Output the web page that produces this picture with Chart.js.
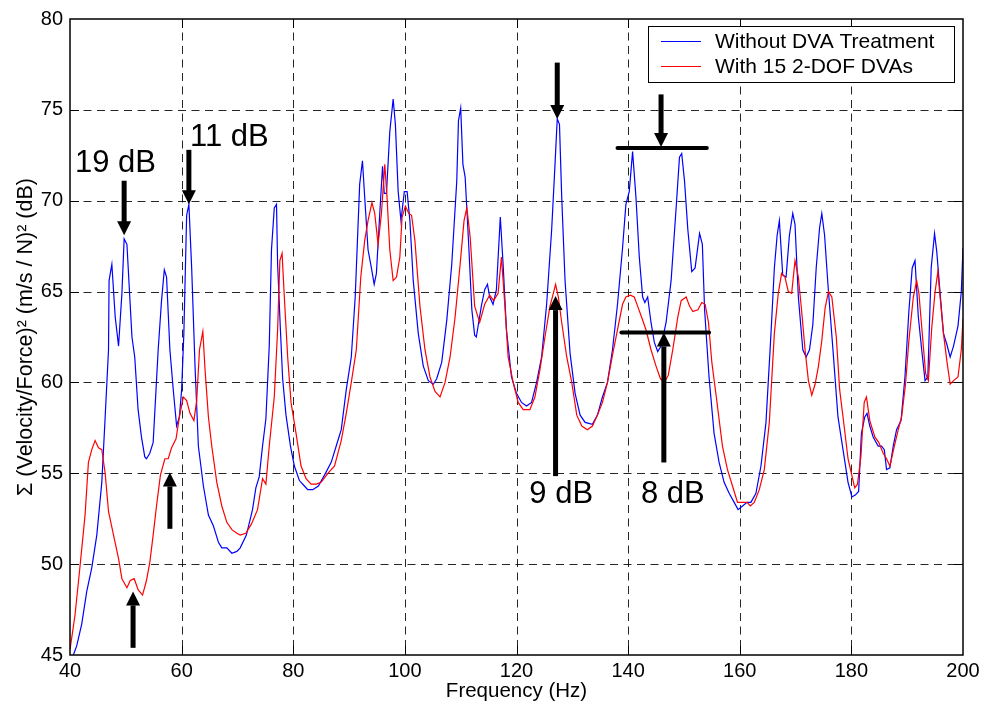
<!DOCTYPE html>
<html><head><meta charset="utf-8">
<script src="https://cdn.jsdelivr.net/npm/chart.js@4.4.1/dist/chart.umd.min.js"></script>
<style>html,body{margin:0;padding:0;background:#fff}</style>
</head><body>
<canvas id="c" width="984" height="710"></canvas>
<script>
const freqBlue = [40.3,40.6,41.2,42.1,43.0,43.9,44.8,45.7,46.3,46.9,47.0,47.5,48.1,48.7,49.3,49.7,50.2,51.1,51.6,52.2,52.8,53.4,53.7,54.3,54.9,55.8,56.4,56.9,57.3,57.9,58.5,59.1,59.6,60.0,60.4,60.9,61.3,61.8,62.4,63.0,63.9,64.8,65.7,66.6,67.2,68.1,69.0,69.9,70.5,71.6,72.7,73.3,73.9,74.5,75.1,75.7,76.1,76.6,77.0,77.2,77.7,78.1,78.7,79.5,80.2,81.1,82.0,82.6,83.5,84.5,85.6,86.8,87.7,88.6,89.5,90.4,91.1,91.9,92.4,92.8,93.4,94.0,94.5,94.9,95.5,96.0,96.3,96.7,97.3,97.9,98.3,98.8,99.3,99.9,100.4,100.9,101.5,102.4,103.3,104.2,105.1,105.7,106.6,107.5,108.4,109.3,109.6,110.0,110.4,110.8,111.4,112.0,112.5,112.8,113.7,114.3,114.8,115.2,115.8,116.4,117.1,117.6,118.2,119.1,120.0,120.9,121.8,122.7,123.6,124.5,125.4,126.3,126.9,127.3,127.7,128.1,128.7,129.6,130.5,131.4,132.3,133.6,134.5,135.4,136.3,137.2,138.1,139.0,139.6,140.2,140.8,141.4,142.0,142.6,143.0,143.5,144.1,144.7,145.3,145.9,146.8,147.7,148.6,149.2,149.6,150.1,150.7,151.4,152.0,152.8,153.3,153.7,154.5,155.4,156.3,157.2,158.1,159.0,159.7,160.5,161.3,162.0,162.9,163.8,164.7,165.6,166.2,166.7,167.1,167.7,168.3,168.9,169.5,169.9,170.5,171.3,171.9,172.5,173.1,173.7,174.3,174.7,175.2,175.8,176.7,177.6,178.5,179.4,180.1,180.7,181.3,181.8,182.4,182.8,183.3,183.9,184.8,185.4,185.9,186.3,186.9,187.5,188.1,188.9,189.6,190.3,190.9,191.4,192.0,192.6,193.2,193.7,194.3,194.9,195.3,195.9,196.5,197.1,197.7,198.3,199.1,199.7,200.0];
const dbBlue = [44.8,45.0,45.5,46.7,48.5,49.8,51.6,54.5,58.1,61.8,65.6,66.5,63.6,62.0,64.9,67.9,67.6,62.5,61.4,58.5,57.0,55.9,55.8,56.1,56.7,61.8,64.5,66.2,65.8,61.8,59.6,57.6,58.1,59.6,62.7,69.2,69.8,66.3,60.9,56.5,54.3,52.7,52.1,51.2,50.9,50.9,50.6,50.7,50.9,51.6,53.0,54.2,54.8,56.5,58.0,62.0,67.3,69.6,69.8,66.5,62.9,60.2,58.2,56.5,55.4,54.6,54.3,54.1,54.1,54.3,54.9,55.6,56.5,57.4,59.6,61.4,64.7,70.9,72.2,70.2,67.3,66.3,65.4,66.0,69.3,71.9,70.4,70.4,73.8,75.6,74.2,70.5,68.9,70.5,70.5,68.9,65.6,62.7,60.9,60.1,59.9,60.2,61.1,63.4,66.5,71.1,74.4,75.1,72.0,71.3,67.8,64.0,62.6,62.5,64.2,65.1,65.4,64.7,64.3,65.1,69.1,66.5,62.9,60.3,59.4,58.9,58.7,58.9,60.0,61.4,64.3,68.4,72.0,74.5,74.2,70.2,65.6,61.6,59.4,58.2,57.8,57.7,58.2,59.2,60.0,61.8,64.3,67.4,69.8,70.5,72.7,70.2,66.9,64.7,64.4,64.7,63.3,62.2,61.7,62.0,63.3,65.6,69.6,72.4,72.6,71.1,68.4,66.1,66.3,68.2,67.6,64.0,60.3,57.2,55.6,54.5,53.9,53.4,53.0,53.2,53.4,53.4,53.9,55.4,57.8,62.7,66.3,68.1,68.9,65.9,65.8,68.1,69.3,68.7,64.7,61.8,61.4,61.8,63.2,66.3,68.5,69.3,68.1,65.4,61.8,58.1,56.3,54.5,53.7,53.8,54.0,57.2,58.1,58.3,57.6,57.0,56.5,56.5,56.3,55.2,55.3,56.5,57.4,57.9,60.3,63.9,66.3,66.7,63.6,61.8,60.1,60.3,66.3,68.2,67.2,64.9,62.7,62.1,61.4,62.0,63.1,65.0,67.4];
const freqRed = [40.0,40.9,41.8,42.7,43.3,43.9,44.5,45.1,45.7,46.3,46.9,47.8,48.7,49.3,50.2,50.8,51.5,52.2,53.0,53.7,54.3,54.9,55.5,56.2,57.0,57.6,58.2,59.0,59.6,60.3,60.9,61.5,62.2,62.7,63.2,63.8,64.2,64.8,65.4,66.3,67.2,68.1,69.0,69.9,70.5,71.5,72.5,73.6,74.5,75.1,75.7,76.6,77.2,77.6,78.0,78.4,79.0,79.6,80.5,81.4,82.3,83.2,84.1,85.0,86.2,87.4,88.6,89.5,90.4,91.3,92.1,92.8,93.4,94.1,94.6,95.2,95.8,96.4,96.8,97.3,97.9,98.5,99.1,99.5,100.1,100.7,101.2,101.8,102.7,103.6,104.5,105.4,106.3,107.2,108.1,109.0,109.9,110.6,111.1,111.7,112.5,113.4,114.3,115.2,115.9,116.7,117.3,117.9,118.5,119.4,120.3,121.2,122.4,123.3,124.2,125.1,126.0,126.6,127.0,127.5,128.1,129.0,129.9,130.8,131.7,132.7,133.6,134.5,135.4,136.3,137.2,138.1,139.0,139.6,140.4,141.1,141.7,142.4,143.2,144.1,145.0,145.8,146.5,147.2,148.0,148.9,149.5,150.4,151.0,151.6,152.5,153.2,153.8,154.4,155.0,155.8,156.9,157.8,158.7,159.6,160.5,161.3,161.9,162.6,163.5,164.4,165.3,166.2,166.9,167.5,168.1,168.7,169.3,169.9,170.5,171.1,171.7,172.3,172.9,173.5,174.1,174.7,175.3,175.9,176.5,177.3,177.9,178.7,179.4,180.0,180.6,181.1,181.7,182.3,182.7,183.3,184.2,184.9,185.7,186.3,186.9,187.7,188.4,189.0,189.7,190.3,191.1,191.7,192.1,192.7,193.3,193.8,194.4,195.0,195.5,195.9,196.5,197.1,197.7,198.3,199.1,199.7,200.0];
const dbRed = [45.3,47.2,49.9,52.7,55.6,56.3,56.8,56.4,56.3,55.0,52.9,51.6,50.3,49.2,48.7,49.1,49.2,48.6,48.3,49.1,50.1,51.6,53.2,54.9,55.8,55.8,56.4,56.9,58.1,59.2,59.0,58.3,57.9,59.0,61.8,62.8,60.7,58.1,56.5,54.5,53.2,52.3,51.9,51.7,51.6,51.7,52.2,53.0,54.7,54.4,56.5,59.2,62.9,66.7,67.1,64.7,61.4,58.9,57.2,55.4,54.7,54.4,54.4,54.5,55.0,55.4,56.8,58.3,60.0,61.8,65.8,67.8,68.9,69.9,69.3,67.6,69.3,72.0,70.2,67.3,65.6,65.8,66.9,69.1,69.7,69.3,69.2,67.8,64.2,61.8,60.3,59.5,59.2,60.0,61.4,63.6,66.5,68.9,69.6,68.0,64.2,63.3,64.3,64.8,64.5,64.9,66.9,64.3,61.4,60.0,58.9,58.5,58.5,59.2,60.7,62.5,64.2,64.9,65.4,64.7,63.3,61.4,60.0,58.2,57.6,57.4,57.6,58.2,58.9,60.0,61.5,62.9,64.3,64.7,64.8,64.7,64.2,63.6,62.9,61.8,60.9,60.2,60.0,60.4,61.8,63.6,64.5,64.7,64.2,63.9,64.0,64.4,64.3,63.3,61.1,59.2,56.5,55.2,54.3,53.4,53.4,53.4,53.2,53.4,54.1,55.2,57.8,62.7,64.9,66.0,65.8,65.0,64.9,66.7,65.8,63.9,61.8,60.1,59.3,59.9,60.9,62.3,64.1,65.0,64.7,62.5,59.6,57.6,55.8,55.0,54.2,54.4,55.9,58.9,59.2,57.9,57.0,56.7,56.1,55.8,55.4,56.5,57.4,58.1,59.9,62.3,64.7,65.6,64.9,62.7,60.5,60.1,63.0,65.0,66.1,64.7,62.7,61.2,59.9,60.1,60.3,61.8,63.5];
const xTicks = [40,60,80,100,120,140,160,180,200];
const yTicks = [45,50,55,60,65,70,75,80];
const seriesNames = ['Without DVA Treatment','With 15 2-DOF DVAs'];
const dbLabels = ['19 dB','11 dB','9 dB','8 dB'];
const dbLabelFreq = [40.9,61.5,122.3,142.3];
const dbLabelLevel = [71.6,73.0,53.35,53.35];
const downArrowFreq = [49.7,61.3,127.3,145.9];
const downArrowFrom = [71.1,72.8,77.6,75.85];
const downArrowTo = [68.1,69.8,74.5,72.95];
const upArrowFreq = [51.3,57.9,127.0,146.4];
const upArrowFrom = [45.45,52.0,54.9,55.65];
const upArrowTo = [48.5,55.05,64.75,62.75];
const barFreqStart = [138.1,138.8];
const barFreqEnd = [154.1,154.5];
const barLevel = [72.9,62.75];

const FONT = '"Liberation Sans", Arial, Helvetica, sans-serif';
const pts = (xs, ys) => xs.map((x,i)=>({x:x, y:ys[i]}));

function arrow(ctx, x, yTail, yTip) {
  const dir = yTip > yTail ? 1 : -1;
  const headLen = 14, headW = 7, shaftW = 5;
  const yBase = yTip - dir*headLen;
  ctx.fillStyle = '#000';
  ctx.fillRect(x - shaftW/2, Math.min(yTail, yBase), shaftW, Math.abs(yBase - yTail) + 1);
  ctx.beginPath();
  ctx.moveTo(x - headW, yBase);
  ctx.lineTo(x + headW, yBase);
  ctx.lineTo(x, yTip);
  ctx.closePath();
  ctx.fill();
}

const decor = {
  id: 'decor',
  beforeDatasetsDraw(chart) {
    const {ctx, chartArea: a, scales: {x, y}} = chart;
    ctx.save();
    ctx.strokeStyle = 'rgba(0,0,0,0.85)';
    ctx.lineWidth = 1;
    ctx.setLineDash([8, 5.5]);
    xTicks.slice(1,-1).forEach(v => {
      const px = Math.round(x.getPixelForValue(v)) + 0.5;
      ctx.beginPath(); ctx.moveTo(px, a.top); ctx.lineTo(px, a.bottom); ctx.stroke();
    });
    yTicks.slice(1,-1).forEach(v => {
      const py = Math.round(y.getPixelForValue(v)) + 0.5;
      ctx.beginPath(); ctx.moveTo(a.left, py); ctx.lineTo(a.right, py); ctx.stroke();
    });
    ctx.restore();
  },
  afterDatasetsDraw(chart) {
    const {ctx, chartArea: a, scales: {x, y}} = chart;
    ctx.save();
    ctx.strokeStyle = '#000';
    ctx.lineWidth = 1.5;
    ctx.setLineDash([]);
    ctx.strokeRect(a.left, a.top, a.right - a.left, a.bottom - a.top);
    ctx.lineWidth = 1;
    const tl = 9;
    xTicks.slice(1,-1).forEach(v => {
      const px = Math.round(x.getPixelForValue(v)) + 0.5;
      ctx.beginPath();
      ctx.moveTo(px, a.bottom); ctx.lineTo(px, a.bottom - tl);
      ctx.moveTo(px, a.top); ctx.lineTo(px, a.top + tl);
      ctx.stroke();
    });
    yTicks.slice(1,-1).forEach(v => {
      const py = Math.round(y.getPixelForValue(v)) + 0.5;
      ctx.beginPath();
      ctx.moveTo(a.left, py); ctx.lineTo(a.left + tl, py);
      ctx.moveTo(a.right, py); ctx.lineTo(a.right - tl, py);
      ctx.stroke();
    });
    ctx.fillStyle = '#000';
    ctx.font = '31px ' + FONT;
    ctx.textAlign = 'left';
    ctx.textBaseline = 'alphabetic';
    dbLabels.forEach((t,i) => {
      ctx.fillText(t, x.getPixelForValue(dbLabelFreq[i]), y.getPixelForValue(dbLabelLevel[i]));
    });
    downArrowFreq.forEach((f,i) => arrow(ctx, x.getPixelForValue(f), y.getPixelForValue(downArrowFrom[i]), y.getPixelForValue(downArrowTo[i])));
    upArrowFreq.forEach((f,i) => arrow(ctx, x.getPixelForValue(f), y.getPixelForValue(upArrowFrom[i]), y.getPixelForValue(upArrowTo[i])));
    ctx.lineWidth = 4;
    ctx.lineCap = 'round';
    ctx.strokeStyle = '#000';
    barLevel.forEach((lv,i) => {
      const py = y.getPixelForValue(lv);
      ctx.beginPath();
      ctx.moveTo(x.getPixelForValue(barFreqStart[i]), py);
      ctx.lineTo(x.getPixelForValue(barFreqEnd[i]), py);
      ctx.stroke();
    });
    const lx1 = a.right - 9, lx0 = lx1 - 306, ly0 = a.top + 7, ly1 = ly0 + 56;
    ctx.lineCap = 'butt';
    ctx.fillStyle = '#fff';
    ctx.fillRect(lx0, ly0, lx1 - lx0, ly1 - ly0);
    ctx.lineWidth = 1;
    ctx.strokeStyle = '#000';
    ctx.strokeRect(lx0 + 0.5, ly0 + 0.5, lx1 - lx0, ly1 - ly0);
    const cols = ['#0000ff', '#ff0000'];
    ctx.font = '21px ' + FONT;
    ctx.textBaseline = 'middle';
    seriesNames.forEach((n,i) => {
      const yy = ly0 + 15 + i*25;
      ctx.strokeStyle = cols[i];
      ctx.beginPath(); ctx.moveTo(lx0 + 13, yy + 0.5); ctx.lineTo(lx0 + 53, yy + 0.5); ctx.stroke();
      ctx.fillStyle = '#000';
      ctx.fillText(n, lx0 + 67, yy + 1);
    });
    ctx.restore();
  }
};

new Chart(document.getElementById('c'), {
  type: 'line',
  data: { datasets: [
    { label: seriesNames[0], data: pts(freqBlue, dbBlue), borderColor: '#0000ff', borderWidth: 1.2, pointRadius: 0, tension: 0, fill: false, order: 1 },
    { label: seriesNames[1], data: pts(freqRed, dbRed), borderColor: '#ff0000', borderWidth: 1.2, pointRadius: 0, tension: 0, fill: false, order: 0 }
  ]},
  options: {
    responsive: false, animation: false, devicePixelRatio: 1,
    layout: { padding: { top: 14, right: 21, left: 0, bottom: 0 } },
    plugins: { legend: { display: false }, tooltip: { enabled: false } },
    scales: {
      x: {
        type: 'linear', min: 40, max: 200,
        afterBuildTicks: s => { s.ticks = xTicks.map(v => ({ value: v })); },
        afterFit: s => { s.height = 55; },
        grid: { display: false, drawTicks: false }, border: { display: false },
        ticks: { padding: 4, color: '#000', font: { family: FONT, size: 20 }, maxRotation: 0, autoSkip: false },
        title: { display: true, text: 'Frequency (Hz)', color: '#000', font: { family: FONT, size: 20.5 }, padding: { top: 0, bottom: 6 } }
      },
      y: {
        type: 'linear', min: 45, max: 80,
        afterBuildTicks: s => { s.ticks = yTicks.map(v => ({ value: v })); },
        afterFit: s => { s.width = 70; },
        grid: { display: false, drawTicks: false }, border: { display: false },
        ticks: { padding: 7, color: '#000', font: { family: FONT, size: 20 }, autoSkip: false },
        title: { display: true, text: 'Σ (Velocity/Force)² (m/s / N)² (dB)', color: '#000', font: { family: FONT, size: 21.5 }, padding: { top: 13, bottom: 0 } }
      }
    }
  },
  plugins: [decor]
});
</script>
</body></html>
